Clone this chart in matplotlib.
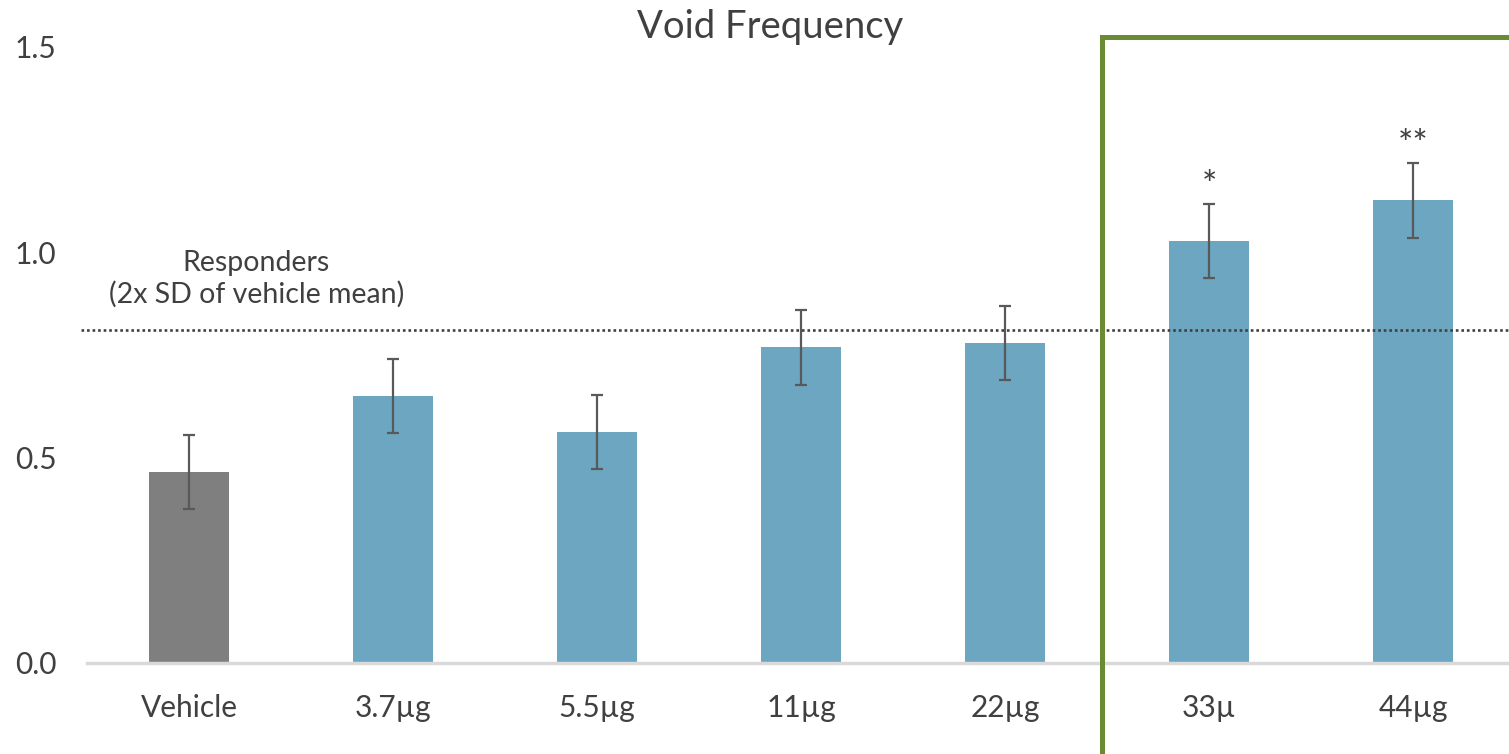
import matplotlib
matplotlib.use("Agg")
import matplotlib.pyplot as plt
from matplotlib.lines import Line2D

plt.rcParams['font.family'] = ['Lato', 'DejaVu Sans']

categories = ["Vehicle", "3.7µg", "5.5µg", "11µg", "22µg", "33µ", "44µg"]
values = [0.465, 0.650, 0.562, 0.769, 0.779, 1.027, 1.127]
errors = [0.090, 0.090, 0.090, 0.091, 0.091, 0.090, 0.091]
bar_colors = ["#7f7f7f", "#6ca6c1", "#6ca6c1", "#6ca6c1", "#6ca6c1", "#6ca6c1", "#6ca6c1"]
significance = ["", "", "", "", "", "*", "**"]
responder_threshold = 0.811
yticks = [0.0, 0.5, 1.0, 1.5]
ytick_labels = ["0.0", "0.5", "1.0", "1.5"]

W, H = 1509, 754
fig = plt.figure(figsize=(W / 100, H / 100), dpi=100)
ax = fig.add_axes([87 / W, 91 / H, 1428 / W, 616 / H])

x = list(range(len(categories)))
ax.bar(x, values, width=0.39, color=bar_colors, zorder=2)
ax.errorbar(x, values, yerr=errors, fmt='none', ecolor='#595959',
            elinewidth=1.6, capsize=4.5, capthick=1.6, zorder=3)

for xi, v, e, s in zip(x, values, errors, significance):
    if s:
        ax.text(xi, v + e + 0.043, s, ha='center', va='center',
                fontsize=26, color='#404040')

ax.plot([-0.53, 6.6], [responder_threshold, responder_threshold],
        linestyle=(0, (1, 1.1)), color='#404040', linewidth=1.9,
        clip_on=False, zorder=4)
ax.text(0.33, 0.935, "Responders\n(2x SD of vehicle mean)", ha='center',
        va='center', fontsize=20.5, color='#404040', linespacing=1.25)

ax.set_xlim(-0.5, 6.5)
ax.set_ylim(0, 1.5)
ax.set_xticks(x)
ax.set_xticklabels(categories, fontsize=21.5, color='#404040')
ax.set_yticks(yticks)
ax.set_yticklabels(ytick_labels, fontsize=21.5, color='#404040')
ax.tick_params(axis='both', length=0)
ax.tick_params(axis='x', pad=22)
ax.tick_params(axis='y', pad=22)

for side in ['left', 'right', 'top']:
    ax.spines[side].set_visible(False)
ax.spines['bottom'].set_color('#d9d9d9')
ax.spines['bottom'].set_linewidth(2.5)

fig.text(770 / W, 1 - 27 / H, "Void Frequency", ha='center', va='center',
         fontsize=27.5, color='#404040')

green = '#6a8b32'
fig.add_artist(Line2D([1101.5 / W, 1101.5 / W], [0, 1 - 37 / H],
                      color=green, linewidth=3.6, transform=fig.transFigure,
                      solid_capstyle='projecting'))
fig.add_artist(Line2D([1101.5 / W, 1.0], [1 - 37 / H, 1 - 37 / H],
                      color=green, linewidth=3.6, transform=fig.transFigure,
                      solid_capstyle='projecting'))

fig.savefig("out.png", dpi=100)
